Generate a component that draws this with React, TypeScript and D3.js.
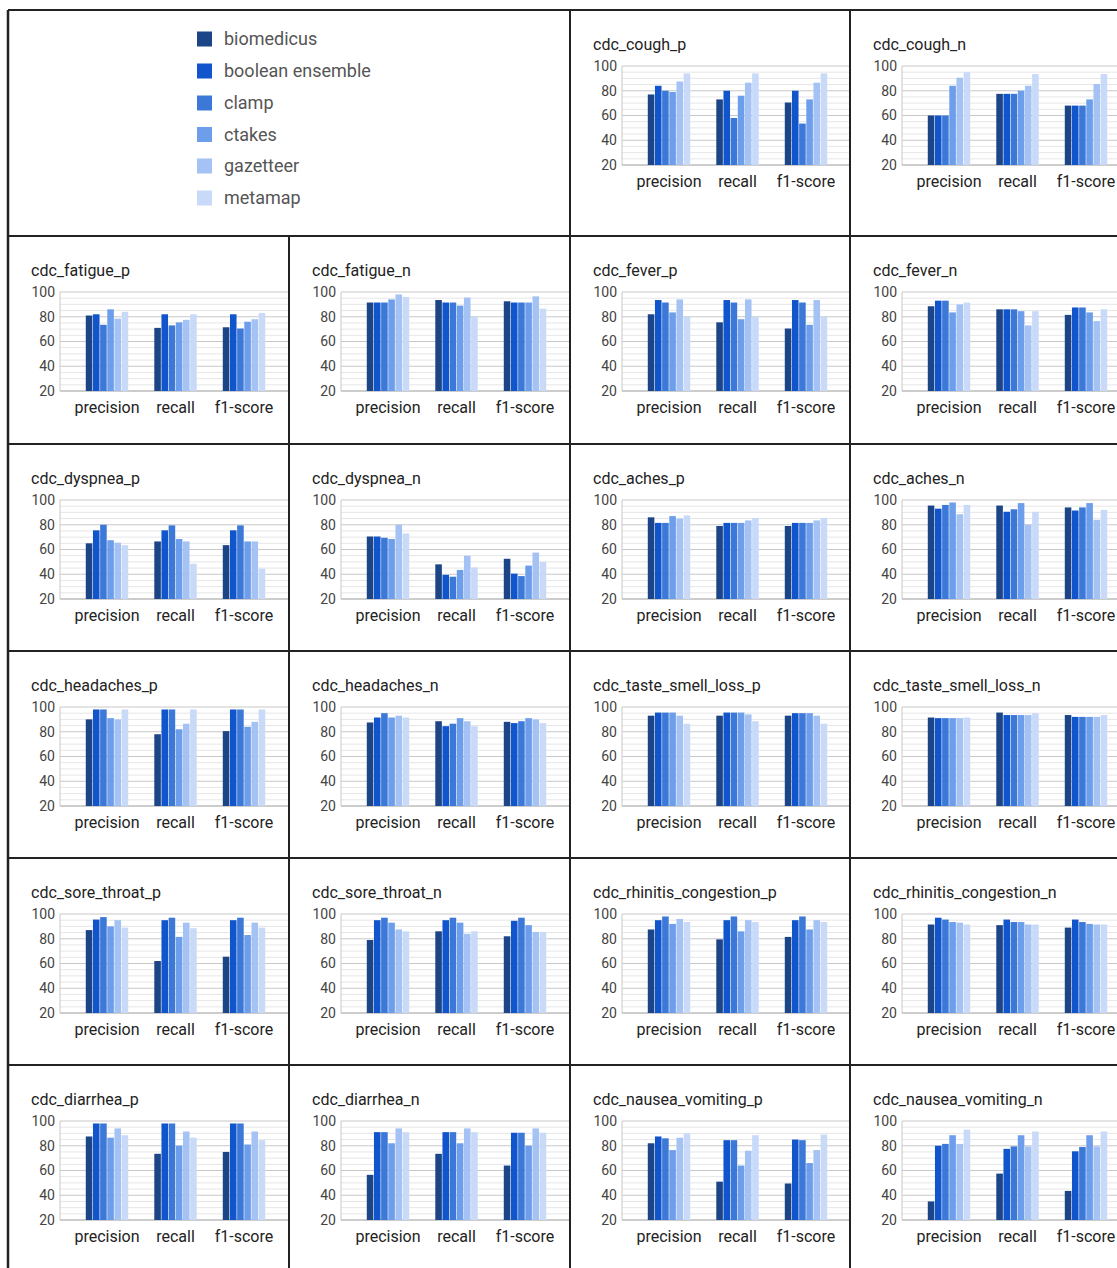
import React from 'react';
import * as d3 from 'd3';

const SERIES = ['biomedicus', 'boolean ensemble', 'clamp', 'ctakes', 'gazetteer', 'metamap'];
const COLORS = ['#1c4587', '#1155cc', '#3c78d8', '#6d9eeb', '#a4c2f4', '#c9daf8'];
const METRICS = ['precision', 'recall', 'f1-score'];
const Y_TICKS = [20, 40, 60, 80, 100];
const Y_MINOR_STEP = 5;

// values: [precision, recall, f1-score], each listing the six series in order
const cdc_cough_p = [[77, 84, 80, 79, 87.5, 94], [73, 80, 58, 76, 86.5, 94], [70.5, 80, 53.5, 73, 86.5, 94]];
const cdc_cough_n = [[60, 60, 60, 84, 90.5, 95], [77.5, 77.5, 77.5, 80, 84, 93.5], [68, 68, 68, 73, 85.5, 93.5]];
const cdc_fatigue_p = [[81, 82, 73.5, 86, 78.5, 84], [71, 82, 73, 75.5, 77.5, 82], [71.5, 82, 70.5, 76, 78, 83]];
const cdc_fatigue_n = [[91.5, 91.5, 91.5, 94, 98, 96], [93.5, 91.5, 91.5, 89, 95.5, 80], [92.5, 91.5, 91.5, 91.5, 96.5, 86.5]];
const cdc_fever_p = [[82, 93.5, 91.5, 83.5, 94, 80], [75.5, 93.5, 91.5, 78, 94, 80], [70.5, 93.5, 91.5, 73.5, 93.5, 80]];
const cdc_fever_n = [[88.5, 93, 93, 83.5, 90, 91.5], [86, 86, 86, 84.5, 73, 84.5], [81.5, 87.5, 87.5, 83.5, 76.5, 86]];
const cdc_dyspnea_p = [[65, 75.5, 80, 67.5, 65.5, 63.5], [66.5, 75.5, 79.5, 68.5, 66.5, 48.5], [63.5, 75.5, 79.5, 66.5, 66.5, 44.5]];
const cdc_dyspnea_n = [[70.5, 70.5, 69.5, 68.5, 80, 73], [48, 39.5, 38, 43.5, 55, 45.5], [52.5, 40.5, 38.5, 47, 57.5, 50]];
const cdc_aches_p = [[86, 81.5, 81.5, 87, 85, 87.5], [79, 81.5, 81.5, 81.5, 83.5, 85.5], [79, 81.5, 81.5, 81.5, 83.5, 85.5]];
const cdc_aches_n = [[95.5, 93, 96, 98, 88.5, 96], [95.5, 90.5, 92.5, 97.5, 80, 90.5], [94, 91.5, 94, 97.5, 84, 92]];
const cdc_headaches_p = [[90, 98, 98, 91, 90, 98], [78, 98, 98, 82, 86.5, 98], [80.5, 98, 98, 84, 88, 98]];
const cdc_headaches_n = [[87.5, 91.5, 95, 91.5, 93, 91.5], [88.5, 84.5, 86.5, 91, 88.5, 84.5], [88, 87, 88.5, 91, 90, 87]];
const cdc_taste_smell_loss_p = [[93, 95.5, 95.5, 95.5, 93, 86.5], [93, 95.5, 95.5, 95.5, 94, 88.5], [93, 95, 95, 95, 93, 86.5]];
const cdc_taste_smell_loss_n = [[91.5, 91, 91, 91, 91, 91.5], [95.5, 93.5, 93.5, 93.5, 93.5, 95], [93.5, 92, 92, 92, 92, 93.5]];
const cdc_sore_throat_p = [[87, 95.5, 97.5, 90, 95, 89], [62, 95, 97, 81.5, 93, 88.5], [65.5, 95, 97, 83, 93, 89]];
const cdc_sore_throat_n = [[79, 95, 97, 93, 87.5, 86], [86, 95, 97, 93, 84, 86], [82, 94.5, 97, 91, 85.5, 85.5]];
const cdc_rhinitis_congestion_p = [[87.5, 95, 98, 92, 96, 93.5], [79.5, 95, 98, 86, 95, 93.5], [81.5, 95, 98, 87.5, 95, 93.5]];
const cdc_rhinitis_congestion_n = [[91.5, 97, 95.5, 93.5, 93, 91.5], [91, 95.5, 93.5, 93.5, 91.5, 91.5], [89, 95.5, 93.5, 92, 91.5, 91.5]];
const cdc_diarrhea_p = [[87.5, 98, 98, 86.5, 94, 88.5], [73.5, 98, 98, 80, 91.5, 86.5], [75, 98, 98, 81, 91.5, 84.5]];
const cdc_diarrhea_n = [[56.5, 91, 91, 82, 94, 91], [73.5, 91, 91, 82, 94, 91], [64, 90.5, 90.5, 80, 94, 90.5]];
const cdc_nausea_vomiting_p = [[82, 87.5, 86, 76.5, 86.5, 90], [51, 84.5, 84.5, 64, 76, 88.5], [49.5, 85, 84.5, 66, 76.5, 89]];
const cdc_nausea_vomiting_n = [[35, 80, 81.5, 88.5, 81.5, 93], [57.5, 77.5, 79.5, 88.5, 79.5, 91.5], [43.5, 75.5, 79, 88.5, 79.5, 91.5]];

const CHARTS: { title: string; values: number[][]; row: number; col: number }[] = [
  { title: 'cdc_cough_p', values: cdc_cough_p, row: 0, col: 2 },
  { title: 'cdc_cough_n', values: cdc_cough_n, row: 0, col: 3 },
  { title: 'cdc_fatigue_p', values: cdc_fatigue_p, row: 1, col: 0 },
  { title: 'cdc_fatigue_n', values: cdc_fatigue_n, row: 1, col: 1 },
  { title: 'cdc_fever_p', values: cdc_fever_p, row: 1, col: 2 },
  { title: 'cdc_fever_n', values: cdc_fever_n, row: 1, col: 3 },
  { title: 'cdc_dyspnea_p', values: cdc_dyspnea_p, row: 2, col: 0 },
  { title: 'cdc_dyspnea_n', values: cdc_dyspnea_n, row: 2, col: 1 },
  { title: 'cdc_aches_p', values: cdc_aches_p, row: 2, col: 2 },
  { title: 'cdc_aches_n', values: cdc_aches_n, row: 2, col: 3 },
  { title: 'cdc_headaches_p', values: cdc_headaches_p, row: 3, col: 0 },
  { title: 'cdc_headaches_n', values: cdc_headaches_n, row: 3, col: 1 },
  { title: 'cdc_taste_smell_loss_p', values: cdc_taste_smell_loss_p, row: 3, col: 2 },
  { title: 'cdc_taste_smell_loss_n', values: cdc_taste_smell_loss_n, row: 3, col: 3 },
  { title: 'cdc_sore_throat_p', values: cdc_sore_throat_p, row: 4, col: 0 },
  { title: 'cdc_sore_throat_n', values: cdc_sore_throat_n, row: 4, col: 1 },
  { title: 'cdc_rhinitis_congestion_p', values: cdc_rhinitis_congestion_p, row: 4, col: 2 },
  { title: 'cdc_rhinitis_congestion_n', values: cdc_rhinitis_congestion_n, row: 4, col: 3 },
  { title: 'cdc_diarrhea_p', values: cdc_diarrhea_p, row: 5, col: 0 },
  { title: 'cdc_diarrhea_n', values: cdc_diarrhea_n, row: 5, col: 1 },
  { title: 'cdc_nausea_vomiting_p', values: cdc_nausea_vomiting_p, row: 5, col: 2 },
  { title: 'cdc_nausea_vomiting_n', values: cdc_nausea_vomiting_n, row: 5, col: 3 },
];

const W = 1117;
const H = 1268;
const COL_X = [8, 289, 570, 850, 1131];
const ROW_Y = [10, 236, 444, 651, 858, 1065, 1290];
const FONT = 'Roboto, Arial, sans-serif';

function Panel({ title, values, cx, cy, cw, ch, id }: any) {
  const y = d3.scaleLinear().domain([20, 100]).range([cy + 155, cy + 56]);
  const left = cx + 52;
  const right = cx + 52 + 231;
  const x = d3.scaleBand<string>().domain(METRICS).range([left, right]).padding(0.372);
  const inner = d3.scaleBand<string>().domain(SERIES).range([0, x.bandwidth()]);
  const minor = d3.range(20, 100.1, Y_MINOR_STEP).filter((v) => !Y_TICKS.includes(v));
  return (
    <g>
      <clipPath id={id}>
        <rect x={cx + 1} y={cy + 1} width={cw - 2} height={ch - 2} />
      </clipPath>
      <g clipPath={`url(#${id})`}>
        <text x={cx + 23} y={cy + 40} fontSize={16} fill="#222" fontFamily={FONT}>{title}</text>
        {minor.map((v) => (
          <line key={'m' + v} x1={left} x2={right + 20} y1={y(v)} y2={y(v)} stroke="#e6e6e6" strokeWidth={1} />
        ))}
        {Y_TICKS.map((v) => (
          <line key={'g' + v} x1={left} x2={right + 20} y1={y(v)} y2={y(v)} stroke={v === 20 ? '#9a9a9a' : '#c8c8c8'} strokeWidth={1} />
        ))}
        <line x1={left} x2={left} y1={y(100)} y2={y(20)} stroke="#c8c8c8" strokeWidth={1} />
        {Y_TICKS.map((v) => (
          <text key={'t' + v} x={cx + 47} y={y(v)} dy="0.35em" textAnchor="end" fontSize={14} fill="#444" fontFamily={FONT}>{v}</text>
        ))}
        {METRICS.map((m, mi) => (
          <g key={m}>
            {SERIES.map((s, si) => (
              <rect
                key={s}
                x={(x(m) as number) + (inner(s) as number) + 0.3}
                y={y(values[mi][si])}
                width={inner.bandwidth() - 0.6}
                height={y(20) - y(values[mi][si])}
                fill={COLORS[si]}
              />
            ))}
            <text x={(x(m) as number) + x.bandwidth() / 2} y={cy + 177} textAnchor="middle" fontSize={16} fill="#222" fontFamily={FONT}>{m}</text>
          </g>
        ))}
      </g>
    </g>
  );
}

export default function App() {
  const legendY = [39, 71, 103, 134.5, 166, 198];
  return (
    <svg width={W} height={H} style={{ position: 'absolute', left: 0, top: 0, background: '#fff' }} xmlns="http://www.w3.org/2000/svg">
      <rect x={0} y={0} width={W} height={H} fill="#fff" />
      {SERIES.map((s, i) => (
        <g key={s}>
          <rect x={197} y={legendY[i] - 7.5} width={15} height={15} fill={COLORS[i]} />
          <text x={224} y={legendY[i]} dy="0.35em" fontSize={18} fill="#555" fontFamily={FONT}>{s}</text>
        </g>
      ))}
      {CHARTS.map((c, i) => (
        <Panel
          key={c.title}
          id={'clip' + i}
          title={c.title}
          values={c.values}
          cx={COL_X[c.col]}
          cy={ROW_Y[c.row]}
          cw={COL_X[c.col + 1] - COL_X[c.col]}
          ch={ROW_Y[c.row + 1] - ROW_Y[c.row]}
        />
      ))}
      {ROW_Y.slice(0, 6).map((yy) => (
        <line key={'h' + yy} x1={COL_X[0]} x2={W} y1={yy} y2={yy} stroke="#222" strokeWidth={2} />
      ))}
      <line x1={COL_X[0]} x2={COL_X[0]} y1={ROW_Y[0]} y2={H} stroke="#222" strokeWidth={2.5} />
      <line x1={COL_X[1]} x2={COL_X[1]} y1={ROW_Y[1]} y2={H} stroke="#222" strokeWidth={2} />
      <line x1={COL_X[2]} x2={COL_X[2]} y1={ROW_Y[0]} y2={H} stroke="#222" strokeWidth={2} />
      <line x1={COL_X[3]} x2={COL_X[3]} y1={ROW_Y[0]} y2={H} stroke="#222" strokeWidth={2} />
    </svg>
  );
}
